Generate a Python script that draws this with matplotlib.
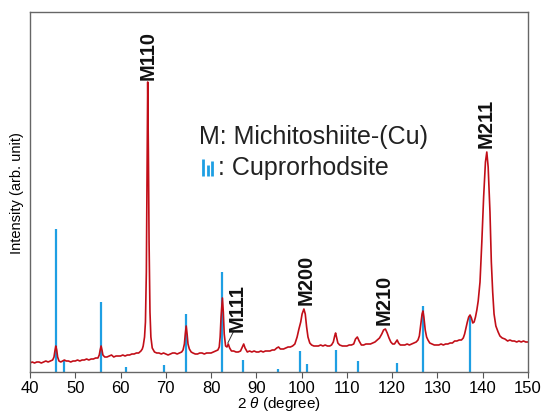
import numpy as np
import matplotlib
matplotlib.use("Agg")
import matplotlib.pyplot as plt

plt.rcParams['font.family'] = ['Liberation Sans', 'DejaVu Sans']
plt.rcParams['mathtext.fontset'] = 'custom'
plt.rcParams['mathtext.it'] = 'Liberation Sans:italic'
plt.rcParams['mathtext.rm'] = 'Liberation Sans'

# Measured XRD pattern (2theta in degrees, intensity in arb. units)
two_theta = [
    40.0, 40.5, 41.0, 41.5, 42.0, 42.5, 43.0, 43.5, 44.0, 44.5, 45.0, 45.3, 45.5, 45.7, 45.9,
    46.1, 46.4, 46.8, 47.2, 47.6, 48.0, 48.5, 49.0, 49.5, 50.0, 50.5, 51.0, 51.5, 52.0, 52.5,
    53.0, 53.5, 54.0, 54.5, 55.0, 55.3, 55.5, 55.7, 55.9, 56.1, 56.5, 57.0, 57.5, 58.0, 58.5,
    59.0, 59.5, 60.0, 60.5, 61.0, 61.5, 62.0, 62.5, 63.0, 63.5, 64.0, 64.5, 64.8, 65.0, 65.3,
    65.5, 65.7, 65.85, 66.0, 66.15, 66.3, 66.5, 66.7, 67.0, 67.5, 68.0, 68.5, 69.0, 69.5, 70.0,
    70.5, 71.0, 71.5, 72.0, 72.5, 73.0, 73.5, 73.8, 74.1, 74.3, 74.5, 74.7, 74.9, 75.2, 75.6,
    76.0, 76.5, 77.0, 77.5, 78.0, 78.5, 79.0, 79.5, 80.0, 80.5, 81.0, 81.5, 81.8, 82.0, 82.2,
    82.5, 82.7, 82.9, 83.2, 83.5, 83.8, 84.1, 84.5, 85.0, 85.5, 86.0, 86.5, 86.9, 87.2, 87.5,
    88.0, 88.5, 89.0, 89.5, 90.0, 90.5, 91.0, 91.5, 92.0, 92.5, 93.0, 93.5, 94.0, 94.5, 94.9,
    95.3, 96.0, 96.5, 97.0, 97.5, 98.0, 98.5, 99.0, 99.4, 99.8, 100.1, 100.5, 100.8, 101.1, 101.4,
    101.8, 102.2, 102.7, 103.2, 103.7, 104.2, 104.7, 105.2, 105.7, 106.2, 106.6, 107.0, 107.3, 107.5, 107.7,
    108.0, 108.4, 109.0, 109.5, 110.0, 110.5, 111.0, 111.5, 111.9, 112.3, 112.7, 113.2, 113.7, 114.2, 114.7,
    115.2, 115.7, 116.2, 116.7, 117.2, 117.7, 118.1, 118.5, 118.9, 119.3, 119.7, 120.1, 120.5, 120.8, 121.1,
    121.4, 121.8, 122.3, 122.8, 123.3, 123.8, 124.3, 124.8, 125.3, 125.7, 126.0, 126.3, 126.6, 126.8, 127.0,
    127.3, 127.6, 127.9, 128.3, 128.8, 129.3, 129.8, 130.3, 130.8, 131.3, 131.8, 132.3, 132.8, 133.3, 133.8,
    134.3, 134.8, 135.3, 135.7, 136.0, 136.3, 136.6, 136.9, 137.2, 137.5, 137.8, 138.1, 138.4, 138.7, 139.0,
    139.4, 139.8, 140.2, 140.6, 140.9, 141.2, 141.6, 141.9, 142.2, 142.5, 142.9, 143.4, 143.8, 144.3, 144.9,
    145.5, 146.0, 146.5, 147.0, 147.5, 148.0, 148.5, 149.0, 149.5, 150.0,
]
intensity = [
    9, 10, 9, 10, 10, 9, 10, 11, 10, 11, 12, 15, 21, 26, 22,
    15, 11, 10, 11, 12, 11, 11, 10, 11, 11, 12, 11, 12, 12, 13,
    12, 13, 13, 14, 14, 17, 22, 26, 22, 17, 15, 15, 16, 17, 15,
    16, 16, 16, 17, 16, 17, 17, 18, 18, 19, 19, 21, 23, 26, 35,
    50, 100, 200, 290, 220, 130, 60, 35, 24, 20, 19, 19, 18, 19, 18,
    17, 18, 19, 19, 18, 19, 20, 22, 28, 38, 46, 38, 28, 23, 20,
    19, 18, 18, 19, 19, 18, 19, 19, 19, 20, 21, 22, 25, 35, 55,
    74, 60, 38, 26, 25, 28, 24, 21, 21, 20, 20, 21, 25, 28, 24,
    20, 21, 20, 21, 20, 20, 21, 20, 21, 21, 21, 22, 22, 24, 25,
    23, 23, 24, 25, 25, 26, 28, 35, 43, 50, 58, 63, 58, 45, 35,
    29, 27, 26, 26, 26, 27, 26, 27, 26, 26, 27, 30, 36, 39, 35,
    29, 27, 26, 26, 26, 27, 27, 28, 33, 35, 31, 27, 27, 28, 28,
    28, 29, 30, 32, 34, 38, 42, 43, 39, 34, 30, 28, 28, 30, 32,
    29, 27, 27, 27, 28, 27, 28, 29, 30, 32, 36, 47, 58, 61, 55,
    42, 35, 32, 29, 28, 27, 27, 27, 28, 27, 28, 28, 29, 29, 31,
    31, 32, 32, 34, 38, 44, 50, 55, 57, 54, 49, 50, 55, 62, 71,
    90, 130, 175, 210, 220, 205, 160, 110, 80, 58, 46, 40, 36, 34, 33,
    31, 32, 31, 31, 30, 31, 30, 31, 30, 30,
]

# Cuprorhodsite reference sticks
ref_pos = [45.7, 47.6, 55.7, 61.1, 69.7, 74.5, 82.4, 87.1, 94.8, 99.6, 101.1,
           107.5, 112.5, 121.1, 126.7, 137.2]
ref_int = [143, 11, 70, 5, 7, 58, 100, 12, 3, 21, 8, 22, 11, 9, 66, 56]

# Michitoshiite-(Cu) reflections: label, 2theta, label height
peak_labels = ['M110', 'M111', 'M200', 'M210', 'M211']
peak_x = [66.07, 85.73, 101.08, 118.2, 140.84]
peak_y = [318, 65, 93, 73, 250]

red = '#C20E18'
blue = '#1E9FE3'

fig = plt.figure(figsize=(5.48, 4.14), dpi=100)
ax = fig.add_axes([30 / 548, 41 / 414, 498 / 548, 360 / 414])

ax.vlines(ref_pos, 0, ref_int, color=blue, lw=1.6, zorder=1)
ax.plot(two_theta, intensity, color=red, lw=1.2, zorder=2)

for lab, x, y in zip(peak_labels, peak_x, peak_y):
    ax.text(x, y, lab, rotation=90, ha='center', va='center',
            fontsize=14.5, fontweight='bold', color='#111111')
# leader line for M111
ax.plot([84.9, 83.7], [40, 29], color='#333333', lw=0.7)

# legend-like annotation
ax.text(77.3, 236, 'M: Michitoshiite-(Cu)', ha='left', va='center', fontsize=18, color='#222222')
ax.vlines([78.3, 79.3, 80.3], 196, [213, 207, 211], color=blue, lw=2.0)
ax.text(81.6, 205, ': Cuprorhodsite', ha='left', va='center', fontsize=18, color='#222222')

ax.set_xlim(40, 150)
ax.set_ylim(0, 360)
ax.set_xticks(np.arange(40, 151, 10))
ax.set_yticks([])
ax.tick_params(axis='x', direction='out', length=4, width=0.8, color='#555555',
               labelsize=12, pad=1.5)
for sp in ax.spines.values():
    sp.set_color('#666666')
    sp.set_linewidth(1.0)

fig.text(279 / 548, 0.5 / 414, '2 $\\mathit{\\theta}$ (degree)', fontsize=11,
         ha='center', va='bottom')
ax.set_ylabel('Intensity (arb. unit)', fontsize=10.5, labelpad=4)

fig.savefig('out.png', dpi=100)
